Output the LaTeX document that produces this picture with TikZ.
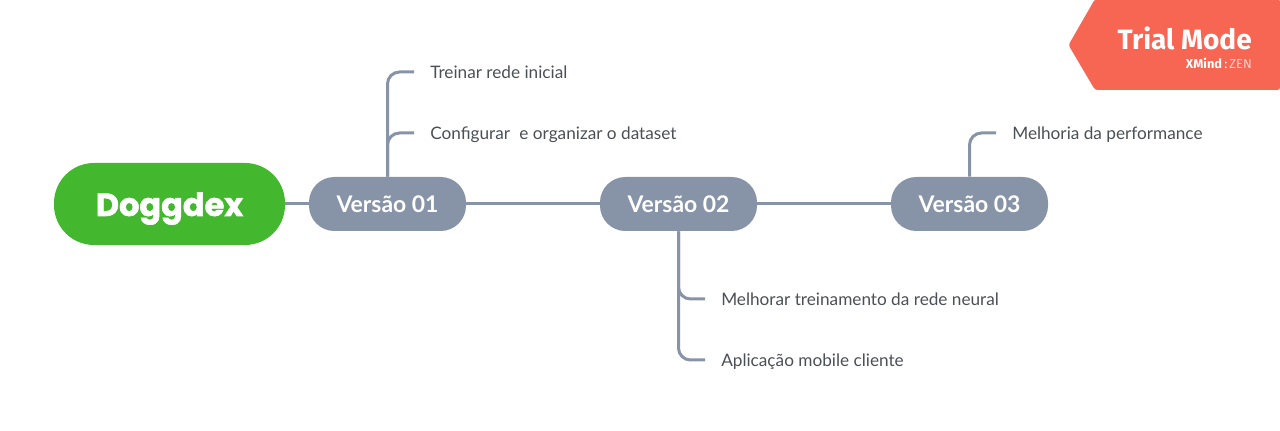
\documentclass[tikz,border=0pt]{standalone}
\usepackage{fontspec}
\setmainfont{Lato}
\newfontfamily\titlefont[BoldFeatures={FakeBold=1.6}]{Poppins}
\newfontfamily\trialfont{Fira Sans}
\usetikzlibrary{positioning}
\definecolor{rootgreen}{HTML}{43B82F}
\definecolor{versaogray}{HTML}{8793A7}
\definecolor{leaftext}{HTML}{4B5057}
\definecolor{trialred}{HTML}{F76652}

\begin{document}
\begin{tikzpicture}[x=0.75pt,y=0.75pt]
    \useasboundingbox (0,0) rectangle (1280,431);
    \tikzstyle{RootStyle}=[fill=rootgreen,text=white,rounded corners=30pt,minimum width=173.25pt,
        minimum height=61.5pt,text height=21pt,text depth=3pt,font=\titlefont\bfseries\fontsize{24}{28}\selectfont]
    \tikzstyle{VersaoStyle}=[fill=versaogray,text=white,rounded corners=19pt,minimum width=117.75pt,
        minimum height=40.5pt,font=\bfseries\fontsize{17.2}{20}\selectfont]
    \tikzstyle{LeafStyle}=[anchor=west,inner xsep=12pt,inner ysep=0pt,text=leaftext,
        text height=12pt,text depth=1.5pt,font=\fontsize{12.9}{15}\selectfont]
    \tikzstyle{EdgeStyle}=[draw=versaogray,line width=2.25pt]
    \tikzstyle{BranchStyle}=[EdgeStyle,rounded corners=9pt]

    % central line
    \node[RootStyle] (doggdex) at (169.5,227) {Doggdex};
    \node[VersaoStyle] (v1) at (387.5,227) {Versão 01};
    \node[VersaoStyle] (v2) at (678.5,227) {Versão 02};
    \node[VersaoStyle] (v3) at (969.5,227) {Versão 03};

    % leaves
    \node[LeafStyle] (treinar) at (414,359) {Treinar rede inicial};
    \node[LeafStyle] (config) at (414,298) {Configurar\hspace{7pt}e organizar o dataset};
    \node[LeafStyle] (melhorar) at (705,132) {Melhorar treinamento da rede neural};
    \node[LeafStyle] (mobile) at (705,71) {Aplicação mobile cliente};
    \node[LeafStyle] (perf) at (996,298) {Melhoria da performance};

    \draw[EdgeStyle] (doggdex) -- (v1);
    \draw[EdgeStyle] (v1) -- (v2);
    \draw[EdgeStyle] (v2) -- (v3);
    \draw[BranchStyle] (v1.north) |- (treinar.west);
    \draw[BranchStyle] (v1.north) |- (config.west);
    \draw[BranchStyle] (v2.south) |- (melhorar.west);
    \draw[BranchStyle] (v2.south) |- (mobile.west);
    \draw[BranchStyle] (v3.north) |- (perf.west);

    % trial tag
    \fill[trialred,rounded corners=2pt] (1095,432) -- (1068.5,386) -- (1095,341) -- (1280,341) -- (1280,432) -- cycle;
    \node[anchor=east,inner sep=0pt,text=white,font=\trialfont\bfseries\fontsize{21}{24}\selectfont] (trial) at (1252,393) {Trial Mode};
    \node[anchor=east,inner sep=0pt,text=white,font=\trialfont\fontsize{9.6}{10}\selectfont] (xmind) at (1252,367.5) {\textbf{XMind}\,:\,\textcolor{white!70!trialred}{ZEN}};
\end{tikzpicture}
\end{document}
